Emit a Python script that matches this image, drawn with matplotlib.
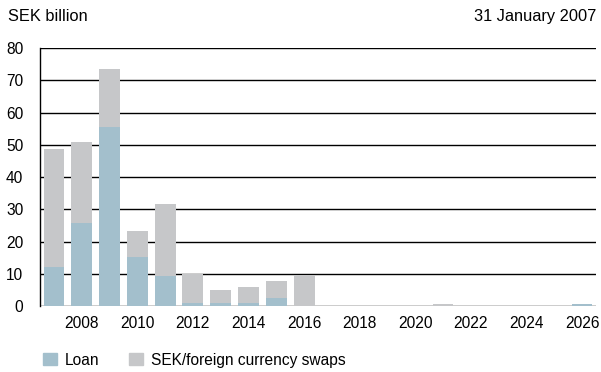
import numpy as np
import matplotlib.pyplot as plt
from matplotlib.patches import Patch

plt.rcParams['font.family'] = ['Liberation Sans', 'DejaVu Sans']

years = list(range(2007, 2027))
loan = [12.1, 25.8, 55.6, 15.2, 9.3, 0.9, 0.9, 0.9, 2.6, 0.0,
        0.2, 0.2, 0.2, 0.2, 0.2, 0.2, 0.2, 0.2, 0.2, 0.6]
swaps = [36.7, 25.1, 18.0, 8.1, 22.4, 9.0, 4.1, 5.0, 5.2, 9.6,
         0.0, 0.0, 0.0, 0.0, 0.4, 0.0, 0.0, 0.0, 0.0, 0.0]
yticks = [0, 10, 20, 30, 40, 50, 60, 70, 80]
xticks = [2008, 2010, 2012, 2014, 2016, 2018, 2020, 2022, 2024, 2026]

c_loan = '#a3bfcc'
c_swap = '#c6c7c9'
fs = 11.2

fig = plt.figure(figsize=(6.01, 3.72), dpi=100)
ax = fig.add_axes([0.0666, 0.177, 0.925, 0.694])

# grid lines and zero line
for y in yticks:
    ax.axhline(y, color='black', lw=1.0, zorder=1)

ax.bar(years, loan, width=0.75, color=c_loan, zorder=2)
ax.bar(years, swaps, width=0.75, bottom=loan, color=c_swap, zorder=2)

ax.set_xlim(2006.5, 2026.5)
ax.set_ylim(0, 80)
ax.set_yticks(yticks)
ax.set_xticks(xticks)
ax.tick_params(axis='both', length=0, labelsize=fs, colors='black')
ax.tick_params(axis='x', pad=7)
ax.tick_params(axis='y', pad=12)
for s in ['top', 'right', 'bottom']:
    ax.spines[s].set_visible(False)
ax.spines['left'].set_color('black')
ax.spines['left'].set_linewidth(1.0)

fig.text(0.013, 0.955, 'SEK billion', fontsize=11.8, va='center', ha='left')
fig.text(0.992, 0.955, '31 January 2007', fontsize=11.8, va='center', ha='right')

handles = [Patch(color=c_loan, label='Loan'), Patch(color=c_swap, label='SEK/foreign currency swaps')]
fig.legend(handles=handles, loc='lower left', bbox_to_anchor=(0.0715, 0.012), ncol=2,
           frameon=False, fontsize=fs, handlelength=0.9, handleheight=0.85,
           handletextpad=0.5, columnspacing=1.9, borderpad=0, borderaxespad=0)

fig.savefig('out.png', dpi=100)
